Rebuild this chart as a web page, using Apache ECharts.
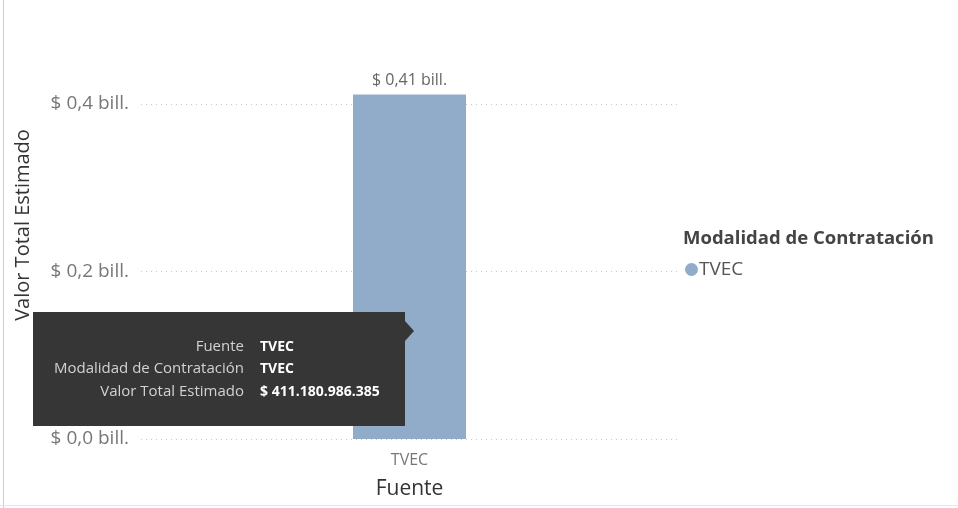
<!DOCTYPE html>
<html>
<head>
<meta charset="utf-8">
<script src="https://cdn.jsdelivr.net/npm/echarts@6/dist/echarts.min.js"></script>
<style>
html,body{margin:0;padding:0;background:#fff;}
#c{width:958px;height:508px;}
</style>
</head>
<body>
<div id="c"></div>
<script>
const categories = ['TVEC'];
const seriesName = 'TVEC';
const values = [411180986385];
const yTicks = [0, 0.2e12, 0.4e12];
const legendTitle = 'Modalidad de Contratación';
const xAxisName = 'Fuente';
const yAxisName = 'Valor Total Estimado';
const tooltipLabels = ['Fuente', 'Modalidad de Contratación', 'Valor Total Estimado'];

const FONT = '"Segoe UI", "Open Sans", "Noto Sans", sans-serif';
const BAR = '#90ACC9';

function billFmt(v, d) {
  return '$ ' + (v / 1e12).toFixed(d).replace('.', ',') + ' bill.';
}
function fullFmt(v) {
  return '$ ' + Math.round(v).toString().replace(/\B(?=(\d{3})+(?!\d))/g, '.');
}

const chart = echarts.init(document.getElementById('c'));
const tipValues = [categories[0], seriesName, fullFmt(values[0])];

const tipRowsY = [347, 369, 392];
const tipChildren = [
  { type: 'rect', z: 100, shape: { x: 33, y: 312, width: 372, height: 114 }, style: { fill: '#363636' } },
  { type: 'polygon', z: 100, shape: { points: [[405, 321], [414, 331], [405, 341]] }, style: { fill: '#363636' } }
];
tooltipLabels.forEach((t, i) => {
  tipChildren.push({ type: 'text', z: 101, style: { x: 244, y: tipRowsY[i], text: t, fill: '#d2d2d2', font: '15px ' + FONT, align: 'right', verticalAlign: 'middle' } });
  tipChildren.push({ type: 'text', z: 101, style: { x: 260, y: tipRowsY[i], text: tipValues[i], fill: '#ffffff', font: 'bold 14px ' + FONT, align: 'left', verticalAlign: 'middle' } });
});

chart.setOption({
  animation: false,
  textStyle: { fontFamily: FONT },
  grid: { left: 141, right: 280, top: 11, bottom: 69 },
  legend: {
    data: [{ name: seriesName, icon: 'circle' }],
    left: 680, top: 255, itemWidth: 13, itemHeight: 13, itemGap: 4,
    textStyle: { color: '#555', fontSize: 19, fontFamily: FONT, padding: [0, 0, 0, -4] }
  },
  xAxis: {
    type: 'category', data: categories,
    axisLine: { show: false }, axisTick: { show: false },
    axisLabel: { color: '#777', fontSize: 16, margin: 13 },
    name: xAxisName, nameLocation: 'middle', nameGap: 40,
    nameTextStyle: { color: '#333', fontSize: 21 }
  },
  yAxis: {
    type: 'value', min: 0, max: 0.511e12, interval: 0.2e12,
    axisLine: { show: false }, axisTick: { show: false },
    axisLabel: {
      color: '#777', fontSize: 19, margin: 12, showMaxLabel: false,
      formatter: v => (yTicks.indexOf(v) >= 0 ? billFmt(v, 1) : '')
    },
    splitLine: { show: true, showMaxLine: false, lineStyle: { color: '#c8c8c8', type: [1, 4], width: 1 } },
    name: yAxisName, nameLocation: 'middle', nameGap: 108,
    nameTextStyle: { color: '#333', fontSize: 20 }
  },
  series: [{
    name: seriesName, type: 'bar', data: values, barWidth: 113,
    itemStyle: { color: BAR },
    label: { show: true, position: 'top', distance: 6, color: '#666', fontSize: 16, formatter: p => billFmt(p.value, 2) }
  }],
  graphic: [
    { type: 'line', shape: { x1: 3.5, y1: 0, x2: 3.5, y2: 508 }, style: { stroke: '#cfcfcf', lineWidth: 1 } },
    { type: 'line', shape: { x1: 0, y1: 505.5, x2: 958, y2: 505.5 }, style: { stroke: '#e6e6e6', lineWidth: 1 } },
    { type: 'text', style: { x: 683, y: 239, text: legendTitle, fill: '#444', font: 'bold 18.5px ' + FONT, verticalAlign: 'middle' } },
    { type: 'group', z: 100, children: tipChildren }
  ]
});
</script>
</body>
</html>
